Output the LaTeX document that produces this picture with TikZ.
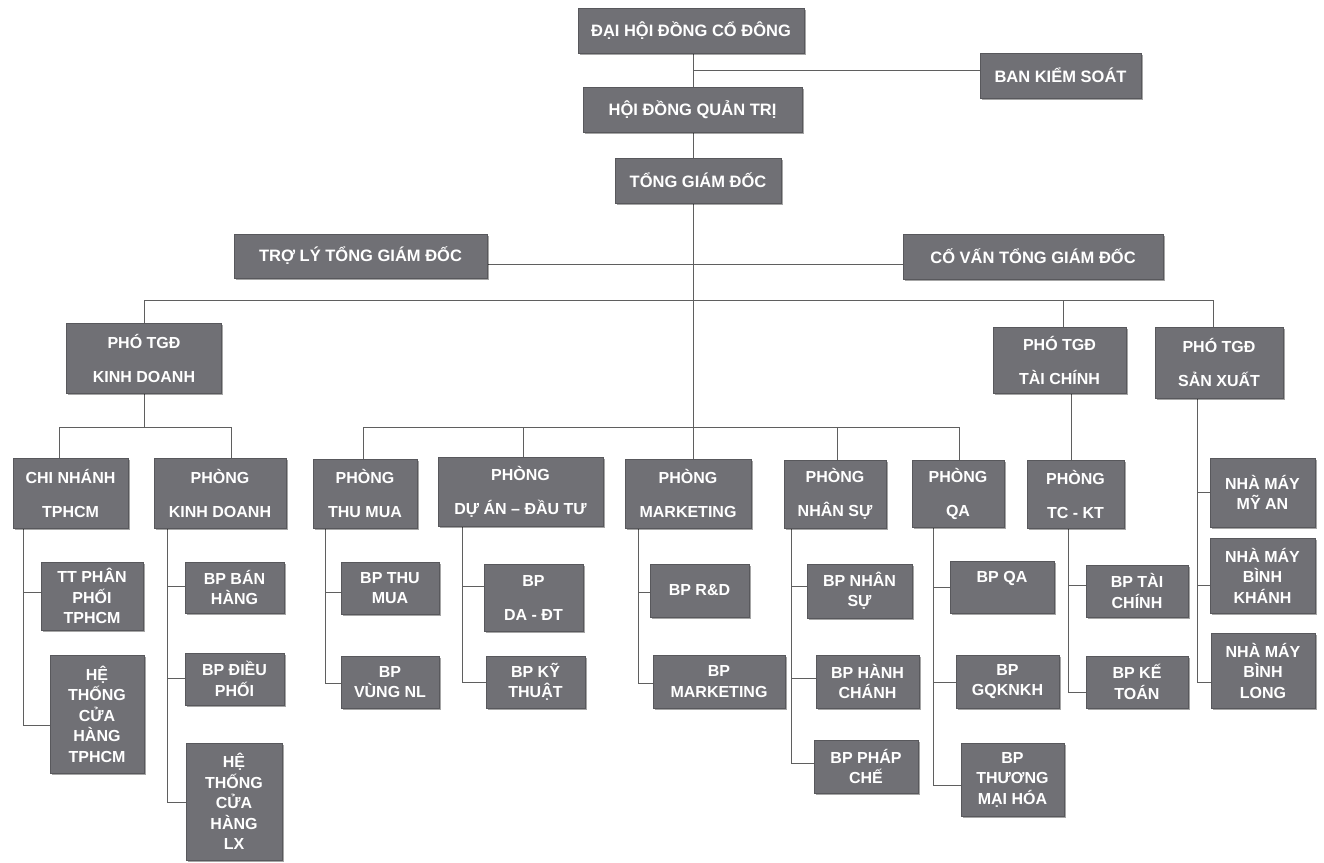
\documentclass[tikz,border=0pt]{standalone}
\usepackage{fontspec}
\setmainfont{Liberation Sans}
\usetikzlibrary{shadows,backgrounds}
\definecolor{boxfill}{RGB}{112,112,117}
\definecolor{boxedge}{RGB}{88,88,92}
\definecolor{linecol}{RGB}{95,95,95}
\begin{document}
\begin{tikzpicture}[x=1pt,y=-1pt,
  box/.style={draw=boxedge, line width=0.6pt, fill=boxfill, text=white, align=center, inner sep=0pt,
     font=\bfseries\fontsize{16}{20.5}\selectfont,
     drop shadow={shadow xshift=1.5pt, shadow yshift=-1.5pt, fill=black, opacity=0.35}},
  wide/.style={font=\bfseries\fontsize{16}{34}\selectfont},
  head/.style={font=\bfseries\fontsize{16.5}{20}\selectfont},
  wh/.style 2 args={minimum width=#1pt, minimum height=#2pt},
  link/.style={draw=linecol, line width=0.9pt}]
\useasboundingbox (0,0) rectangle (1324,862);

% top
\node[box,head,wh={226}{45}] (dhdcd) at (691,30.5) {ĐẠI HỘI ĐỒNG CỔ ĐÔNG};
\node[box,head,wh={161}{45}] (bks) at (1060.5,75.5) {BAN KIỂM SOÁT};
\node[box,head,wh={219}{45}] (hdqt) at (692.5,109.5) {HỘI ĐỒNG QUẢN TRỊ};
\node[box,head,wh={166}{45}] (tgd) at (698,180.5) {TỔNG GIÁM ĐỐC};
\node[box,head,wh={253}{44}] (troly) at (360.5,256) {TRỢ LÝ TỔNG GIÁM ĐỐC};
\node[box,head,wh={260}{45}] (covan) at (1033,256.5) {CỐ VẤN TỔNG GIÁM ĐỐC};

% deputies
\node[box,wide,wh={155}{70}] (phokd) at (144,358) {PHÓ TGĐ\\KINH DOANH};
\node[box,wide,wh={133}{66}] (photc) at (1059.5,360) {PHÓ TGĐ\\TÀI CHÍNH};
\node[box,wide,wh={128}{71}] (phosx) at (1219,362.5) {PHÓ TGĐ\\SẢN XUẤT};

% departments
\node[box,wide,wh={115}{70}] (chinhanh) at (70.5,493) {CHI NHÁNH\\TPHCM};
\node[box,wide,wh={132}{70}] (phongkd) at (220,493) {PHÒNG\\KINH DOANH};
\node[box,wide,wh={104}{69}] (thumua) at (365,493.5) {PHÒNG\\THU MUA};
\node[box,wide,wh={165}{69}] (duan) at (520.5,491.5) {PHÒNG\\DỰ ÁN – ĐẦU TƯ};
\node[box,wide,wh={126}{69}] (marketing) at (688,493.5) {PHÒNG\\MARKETING};
\node[box,wide,wh={102}{68}] (nhansu) at (835,494) {PHÒNG\\NHÂN SỰ};
\node[box,wide,wh={92}{67}] (qa) at (958,493.5) {PHÒNG\\QA};
\node[box,wide,wh={97}{68}] (tckt) at (1075.5,494) {PHÒNG\\TC - KT};
\node[box,wh={105}{69}] (myan) at (1262.5,492.5) {NHÀ MÁY\\MỸ AN};
\node[box,wh={105}{75}] (binhkhanh) at (1262.5,575.5) {NHÀ MÁY\\BÌNH\\KHÁNH};
\node[box,wh={104}{75}] (binhlong) at (1263,670.5) {NHÀ MÁY\\BÌNH\\LONG};

% sections
\node[box,wh={102}{68}] (ttpp) at (92,596) {TT PHÂN\\PHỐI\\TPHCM};
\node[box,wh={94}{118}] (htch) at (97,714) {HỆ\\THỐNG\\CỬA\\HÀNG\\TPHCM};
\node[box,wh={99}{51}] (banhang) at (234.5,587.5) {BP BÁN\\HÀNG};
\node[box,wh={99}{52}] (dieuphoi) at (234.5,679) {BP ĐIỀU\\PHỐI};
\node[box,wh={96}{117}] (htlx) at (234,801.5) {HỆ\\THỐNG\\CỬA\\HÀNG\\LX};
\node[box,wh={98}{52}] (bpthumua) at (390,588) {BP THU\\MUA};
\node[box,wh={98}{52}] (vungnl) at (390,682) {BP\\VÙNG NL};
\node[box,wide,wh={99}{67}] (dadt) at (533.5,597.5) {BP\\DA - ĐT};
\node[box,wh={99}{52}] (kythuat) at (535.5,682) {BP KỸ\\THUẬT};
\node[box,wh={99}{53}] (rd) at (699.5,590.5) {BP R\&D};
\node[box,wh={132}{53}] (bpmkt) at (719,681.5) {BP\\MARKETING};
\node[box,wh={105}{54}] (bpnhansu) at (859.5,591) {BP NHÂN\\SỰ};
\node[box,wh={103}{53}] (hanhchanh) at (867.5,681.5) {BP HÀNH\\CHÁNH};
\node[box,wh={104}{53}] (phapche) at (866,766.5) {BP PHÁP\\CHẾ};
\node[box,wh={104}{52}] (bpqa) at (1002,587) {BP QA\\\phantom{A}};
\node[box,wh={103}{53}] (gqknkh) at (1007.5,681.5) {BP\\GQKNKH};
\node[box,wh={103}{73}] (tmh) at (1012.5,779.5) {BP\\THƯƠNG\\MẠI HÓA};
\node[box,wh={102}{52}] (taichinh) at (1137,591) {BP TÀI\\CHÍNH};
\node[box,wh={102}{52}] (ketoan) at (1137,682) {BP KẾ\\TOÁN};

\begin{pgfonlayer}{background}
% trunk
\coordinate (tr) at (693,427);
\draw[link] (dhdcd.south -| tr) -- (marketing.north -| tr);
\coordinate (jb) at (693,70);
\draw[link] (jb) -- (jb -| bks.west);
\coordinate (ja) at (693,264);
\draw[link] (troly.east |- ja) -- (covan.west |- ja);
% bus 1
\coordinate (b1l) at (144,300);
\coordinate (b1r) at (1213,300);
\coordinate (b1tc) at (1063,300);
\draw[link] (phokd.north -| b1l) -- (b1l) -- (b1r) -- (phosx.north -| b1r);
\draw[link] (b1tc) -- (photc.north -| b1tc);
% bus 2
\coordinate (b2l) at (363,427);
\coordinate (b2r) at (959,427);
\coordinate (b2da) at (523,427);
\coordinate (b2ns) at (837,427);
\draw[link] (thumua.north -| b2l) -- (b2l) -- (b2r) -- (qa.north -| b2r);
\draw[link] (b2da) -- (duan.north -| b2da);
\draw[link] (b2ns) -- (nhansu.north -| b2ns);
% pho kd
\coordinate (kd0) at (144,427);
\coordinate (kdl) at (59,427);
\coordinate (kdr) at (231,427);
\draw[link] (phokd.south -| kd0) -- (kd0);
\draw[link] (chinhanh.north -| kdl) -- (kdl) -- (kdr) -- (phongkd.north -| kdr);
% pho tc
\coordinate (tc0) at (1071,430);
\draw[link] (photc.south -| tc0) -- (tckt.north -| tc0);
% pho sx
\draw[link] (phosx.south -| 1197,0) -- (1197,682) -- (binhlong.west |- 1197,682);
\draw[link] (1197,492) -- (myan.west |- 1197,492);
\draw[link] (1197,585) -- (binhkhanh.west |- 1197,585);
% chi nhanh
\draw[link] (chinhanh.south -| 23,0) -- (23,725) -- (htch.west |- 23,725);
\draw[link] (23,592) -- (ttpp.west |- 23,592);
% phong kd
\draw[link] (phongkd.south -| 167,0) -- (167,802) -- (htlx.west |- 167,802);
\draw[link] (167,586) -- (banhang.west |- 167,586);
\draw[link] (167,678) -- (dieuphoi.west |- 167,678);
% thu mua
\draw[link] (thumua.south -| 325,0) -- (325,683) -- (vungnl.west |- 325,683);
\draw[link] (325,592) -- (bpthumua.west |- 325,592);
% du an
\draw[link] (duan.south -| 462,0) -- (462,682) -- (kythuat.west |- 462,682);
\draw[link] (462,586) -- (dadt.west |- 462,586);
% marketing
\draw[link] (marketing.south -| 638,0) -- (638,683) -- (bpmkt.west |- 638,683);
\draw[link] (638,592) -- (rd.west |- 638,592);
% nhan su
\draw[link] (nhansu.south -| 791,0) -- (791,763) -- (phapche.west |- 791,763);
\draw[link] (791,586) -- (bpnhansu.west |- 791,586);
\draw[link] (791,678) -- (hanhchanh.west |- 791,678);
% qa
\draw[link] (qa.south -| 933,0) -- (933,785) -- (tmh.west |- 933,785);
\draw[link] (933,587) -- (bpqa.west |- 933,587);
\draw[link] (933,682) -- (gqknkh.west |- 933,682);
% tc-kt
\draw[link] (tckt.south -| 1068,0) -- (1068,692) -- (ketoan.west |- 1068,692);
\draw[link] (1068,585) -- (taichinh.west |- 1068,585);
\end{pgfonlayer}
\end{tikzpicture}
\end{document}
